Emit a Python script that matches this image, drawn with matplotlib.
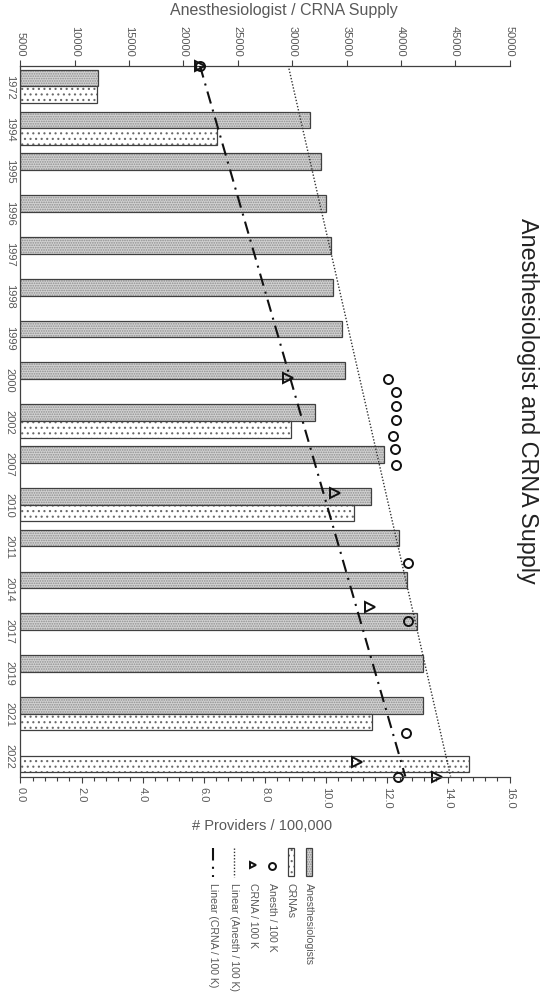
import numpy as np
import matplotlib.pyplot as plt
from matplotlib.patches import Rectangle
from matplotlib.lines import Line2D
from matplotlib.ticker import MultipleLocator

plt.rcParams['font.family'] = ['Liberation Sans', 'DejaVu Sans']
plt.rcParams['hatch.linewidth'] = 0.8

# data
years = ['1972', '1994', '1995', '1996', '1997', '1998', '1999', '2000', '2002',
         '2007', '2010', '2011', '2014', '2017', '2019', '2021', '2022']
anesthesiologists = [12170, 31670, 32650, 33140, 33580, 33730, 34560, 34860, 32080,
                     38450, 37260, 39860, 40540, 41520, 42010, 42010, np.nan]
crnas = [12050, 23060, np.nan, np.nan, np.nan, np.nan, np.nan, np.nan, 29870,
         np.nan, 35720, np.nan, np.nan, np.nan, np.nan, 37320, 46240]

# per 100k markers: position along the category axis and value
anesth_rate_pos = [-0.5, 6.99, 7.31, 7.64, 7.98, 8.36, 8.67, 9.05, 11.40, 12.78, 15.47, 16.52]
anesth_rate = [5.87, 12.03, 12.27, 12.27, 12.27, 12.20, 12.25, 12.28, 12.67, 12.67, 12.61, 12.36]
crna_rate_pos = [-0.5, 6.97, 9.71, 12.44, 16.15, 16.51]
crna_rate = [5.87, 8.76, 10.29, 11.43, 11.00, 13.64]

# linear trend lines (ends at the plot edges)
trend_pos = [-0.5, 16.5]
anesth_trend = [8.76, 14.07]
crna_trend = [5.87, 12.59]

supply_ticks = list(range(5000, 50001, 5000))
rate_ticks = [0, 2, 4, 6, 8, 10, 12, 14, 16]

TXT = '#595959'
LINE = '#404040'
ANES_FACE, ANES_DOTS = '#d2d2d2', '#8e8e8e'
W, H = 556, 995

fig = plt.figure(figsize=(W / 100, H / 100), dpi=100)
left, right, top, bottom = 20.4, 509.6, 66.5, 777.5
ax = fig.add_axes([left / W, 1 - bottom / H, (right - left) / W, (bottom - top) / H])
ax2 = ax.twiny()

xmin, xmax = 5000, 50000
pos = np.arange(len(years))
an = np.array(anesthesiologists, dtype=float)
cr = np.array(crnas, dtype=float)
ma = ~np.isnan(an)
mc = ~np.isnan(cr)

def draw_bars(a, y, w, face, hatch, hcol):
    a.barh(y, w - xmin, left=xmin, height=0.4, color=face, hatch=hatch,
           edgecolor=hcol, linewidth=0)
    a.barh(y, w - xmin, left=xmin, height=0.4, fill=False, edgecolor=LINE, linewidth=0.9)

draw_bars(ax, pos[ma] - 0.2, an[ma], ANES_FACE, '.......', ANES_DOTS)
draw_bars(ax, pos[mc] + 0.2, cr[mc], 'white', '...', '#6a6a6a')

ax.set_xlim(xmin, xmax)
ax.set_ylim(len(years) - 0.5, -0.5)
ax.xaxis.tick_top()
ax.set_xticks(supply_ticks)
ax.set_xticklabels([str(t) for t in supply_ticks], rotation=-90, fontsize=8, color=TXT)
ax.tick_params(axis='x', direction='out', length=4, width=0.8, color=LINE, pad=3,
               top=True, bottom=False, labeltop=True, labelbottom=False)
ax.set_yticks(pos)
ax.set_yticklabels(years, rotation=-90, fontsize=8, color=TXT, va='center')
ax.tick_params(axis='y', length=0, pad=4)
for s in ['right', 'bottom']:
    ax.spines[s].set_visible(False)
for s in ['left', 'top']:
    ax.spines[s].set_color(LINE)
    ax.spines[s].set_linewidth(0.9)

ax2.set_xlim(0, 16)
ax2.xaxis.tick_bottom()
ax2.set_xticks(rate_ticks)
ax2.set_xticklabels([f'{t:.1f}' for t in rate_ticks], rotation=-90, fontsize=8, color=TXT)
ax2.xaxis.set_minor_locator(MultipleLocator(0.4))
ax2.tick_params(axis='x', which='both', top=False, bottom=True, labeltop=False, labelbottom=True)
ax2.tick_params(axis='x', which='major', direction='out', length=4, width=0.8, color=LINE, pad=3)
ax2.tick_params(axis='x', which='minor', direction='out', length=3, width=0.8, color=LINE)
for s in ['top', 'right', 'left']:
    ax2.spines[s].set_visible(False)
ax2.spines['bottom'].set_color(LINE)
ax2.spines['bottom'].set_linewidth(0.9)

ax2.plot(anesth_trend, trend_pos, color='#333333', lw=1.0, ls=(0, (1, 1.3)))
ax2.plot(crna_trend, trend_pos, color='#111111', lw=1.5, ls=(0, (6, 3, 1, 3)))
ax2.plot(anesth_rate, anesth_rate_pos, ls='none', marker='o', ms=6.5, mfc='none',
         mec='#111111', mew=1.4, clip_on=False)
ax2.plot(crna_rate, crna_rate_pos, ls='none', marker='>', ms=6.5, mfc='none',
         mec='#111111', mew=1.4, clip_on=False)

# axis titles and chart title
fig.text(284 / W, 1 - 10 / H, 'Anesthesiologist / CRNA Supply', fontsize=11.5, color=TXT,
         ha='center', va='center')
fig.text(262 / W, 1 - 826 / H, '# Providers / 100,000', fontsize=10.5, color=TXT,
         ha='center', va='center')
fig.text(527 / W, 1 - 401 / H, 'Anesthesiologist and CRNA Supply', fontsize=16.8,
         color='#222222', rotation=-90, ha='center', va='center')

# legend drawn by hand, rotated like the rest
lg = fig.add_axes([0, 0, 1, 1])
lg.set_xlim(0, W)
lg.set_ylim(H, 0)
lg.axis('off')
lg.add_patch(Rectangle((306, 849), 6, 28, facecolor=ANES_FACE, hatch='.......',
                       edgecolor=ANES_DOTS, linewidth=0))
lg.add_patch(Rectangle((306, 849), 6, 28, fill=False, edgecolor=LINE, linewidth=0.9))
lg.add_patch(Rectangle((288, 849), 6, 28, facecolor='white', hatch='...',
                       edgecolor='#6a6a6a', linewidth=0))
lg.add_patch(Rectangle((288, 849), 6, 28, fill=False, edgecolor=LINE, linewidth=0.9))
lg.add_line(Line2D([272], [867], ls='none', marker='o', ms=5, mfc='none', mec='#111111', mew=1.4))
lg.add_line(Line2D([253], [866], ls='none', marker='>', ms=5, mfc='none', mec='#111111', mew=1.4))
lg.add_line(Line2D([234, 234], [849, 878], color='#333333', lw=1.0, ls=(0, (1, 1.3))))
lg.add_line(Line2D([213, 213], [849, 878], color='#111111', lw=1.5, ls=(0, (6, 3, 1, 3))))
labels = ['Anesthesiologists', 'CRNAs', 'Anesth / 100 K', 'CRNA / 100 K',
          'Linear (Anesth / 100 K)', 'Linear (CRNA / 100 K)']
lx = [309, 291, 272, 253, 234, 213]
for t, x in zip(labels, lx):
    lg.text(x, 883, t, rotation=-90, fontsize=7.6, color=TXT, ha='center', va='top')

fig.savefig('out.png', dpi=100)
